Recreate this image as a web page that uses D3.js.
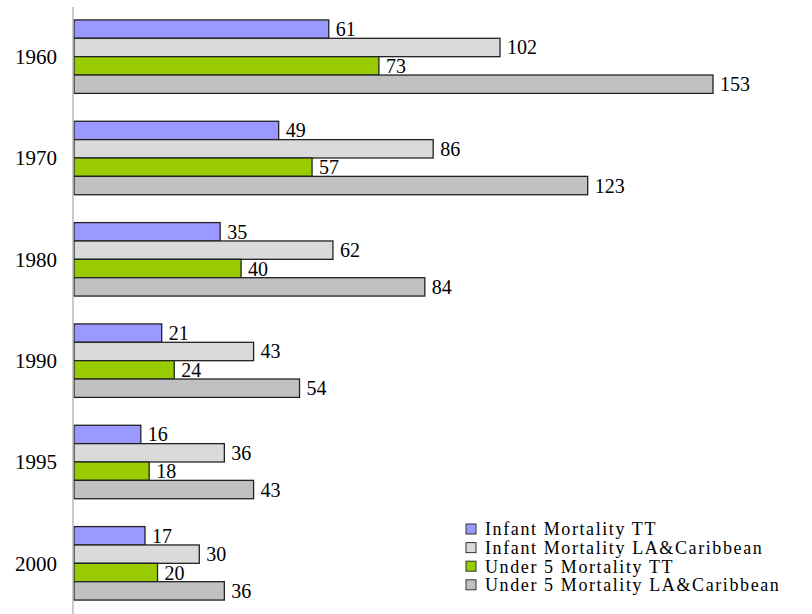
<!DOCTYPE html>
<html>
<head>
<meta charset="utf-8">
<script src="https://cdn.jsdelivr.net/npm/d3@7"></script>
<style>
  html, body { margin: 0; padding: 0; background: #fff; }
  svg { display: block; font-family: "Liberation Serif", "DejaVu Serif", serif; }
</style>
</head>
<body>
<svg id="chart" width="812" height="614"></svg>
<script>
/* ---------- data ---------- */
const years  = ["1960", "1970", "1980", "1990", "1995", "2000"];
const series = ["Infant Mortality TT", "Infant Mortality LA&Caribbean",
                "Under 5 Mortality TT", "Under 5 Mortality LA&Caribbean"];
const infantTT  = [61, 49, 35, 21, 16, 17];
const infantLA  = [102, 86, 62, 43, 36, 30];
const under5TT  = [73, 57, 40, 24, 18, 20];
const under5LA  = [153, 123, 84, 54, 43, 36];
const values = [infantTT, infantLA, under5TT, under5LA];

/* ---------- look ---------- */
const fills = ["#9999ff", "url(#dotLight)", "#99cc00", "url(#dotDark)"];

const svg = d3.select("#chart");

// dotted textures for the grey series
const defs = svg.append("defs");
function dots(id, base, dot){
  const p = defs.append("pattern").attr("id", id)
    .attr("width", 2).attr("height", 2).attr("patternUnits", "userSpaceOnUse");
  p.append("rect").attr("width", 2).attr("height", 2).attr("fill", base);
  p.append("rect").attr("width", 1).attr("height", 1).attr("fill", dot);
  p.append("rect").attr("x", 1).attr("y", 1).attr("width", 1).attr("height", 1).attr("fill", dot);
}
dots("dotLight", "#e2e2e2", "#d2d2d2");
dots("dotDark",  "#cacaca", "#b8b8b8");

/* ---------- scales ---------- */
const y = d3.scaleBand().domain(years).range([6, 614])
  .paddingInner(0.275).paddingOuter(0.1375);
const ySub = d3.scaleBand().domain(d3.range(series.length)).range([0, y.bandwidth()]);
const x = d3.scaleLinear().domain([0, 153]).range([74, 713]);

/* ---------- bars ---------- */
const groups = svg.append("g").selectAll("g")
  .data(years).join("g")
  .attr("transform", d => `translate(0,${y(d)})`);

groups.each(function(yr, i){
  const g = d3.select(this);
  const rows = values.map((v, s) => ({s, v: v[i]}));
  g.selectAll("rect").data(rows).join("rect")
    .attr("x", x(0))
    .attr("y", d => ySub(d.s))
    .attr("width", d => x(d.v) - x(0))
    .attr("height", ySub.bandwidth())
    .attr("fill", d => fills[d.s])
    .attr("stroke", "#222")
    .attr("stroke-width", 1.3);
  g.selectAll("text").data(rows).join("text")
    .attr("x", d => x(d.v) + 7)
    .attr("y", d => ySub(d.s) + ySub.bandwidth() / 2)
    .attr("dy", "0.35em")
    .attr("font-size", 20)
    .attr("fill", "#000")
    .text(d => d.v);
});

/* ---------- category axis ---------- */
svg.append("line")
  .attr("x1", 73).attr("x2", 73).attr("y1", 7).attr("y2", 614)
  .attr("stroke", "#b8b8b8").attr("stroke-width", 1.5);

svg.append("g").selectAll("text")
  .data(years).join("text")
  .attr("x", 57)
  .attr("y", d => y(d) + y.bandwidth() / 2)
  .attr("dy", "0.35em")
  .attr("text-anchor", "end")
  .attr("font-size", 21)
  .text(d => d);

/* ---------- legend ---------- */
const legend = svg.append("g").attr("transform", "translate(466,524)");
const items = legend.selectAll("g").data(series).join("g")
  .attr("transform", (d, i) => `translate(0,${i * 18.6})`);
items.append("rect")
  .attr("width", 10).attr("height", 10)
  .attr("fill", (d, i) => fills[i])
  .attr("stroke", "#333").attr("stroke-width", 1);
items.append("text")
  .attr("x", 19).attr("y", 5).attr("dy", "0.35em")
  .attr("font-size", 18)
  .attr("letter-spacing", 1.6)
  .text(d => d);
</script>
</body>
</html>
